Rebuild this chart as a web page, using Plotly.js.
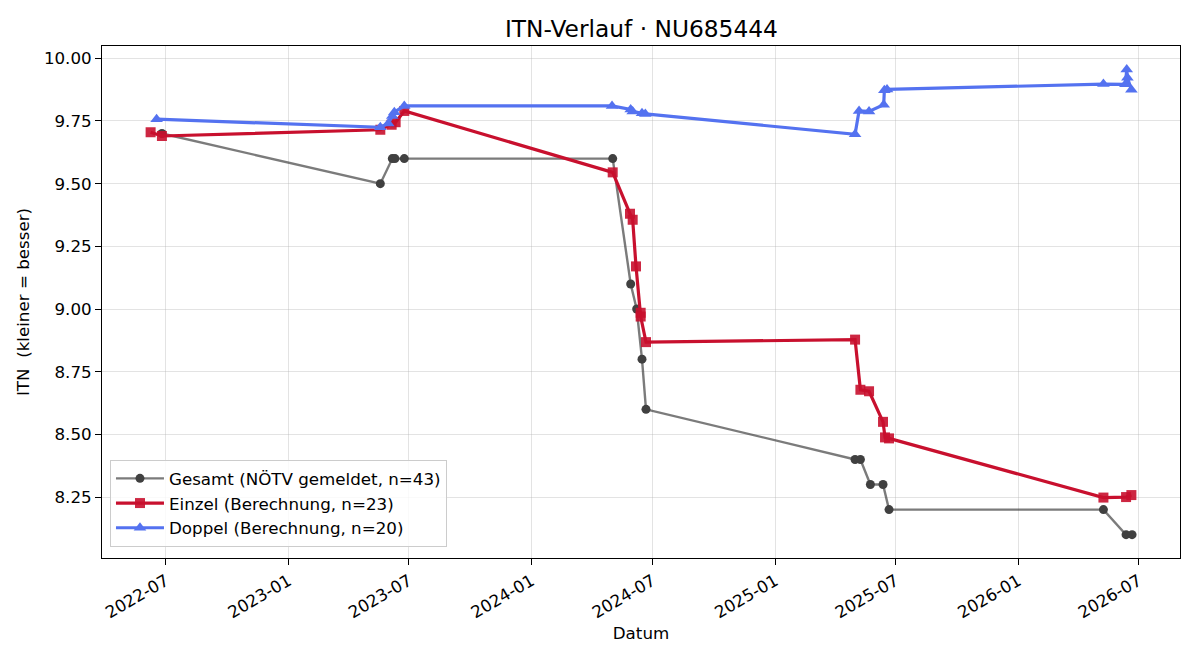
<!DOCTYPE html>
<html>
<head>
<meta charset="utf-8">
<script src="https://cdn.plot.ly/plotly-3.0.1.min.js"></script>
<style>html,body{margin:0;padding:0;background:#fff;}#chart{width:1200px;height:660px;}</style>
</head>
<body>
<div id="chart"></div>
<script>
// Gesamt (NÖTV gemeldet)
const gesamtDates = ["2022-06-25","2023-05-19","2023-06-06","2023-06-10","2023-06-24","2024-05-02","2024-05-29","2024-06-07","2024-06-15","2024-06-21","2025-05-01","2025-05-09","2025-05-24","2025-06-12","2025-06-21","2026-05-09","2026-06-12","2026-06-21"];
const gesamtValues = [9.70,9.50,9.60,9.60,9.60,9.60,9.10,9.00,8.80,8.60,8.40,8.40,8.30,8.30,8.20,8.20,8.10,8.10];

// Einzel (Berechnung)
const einzelDates = ["2022-06-08","2022-06-25","2023-05-19","2023-06-05","2023-06-11","2023-06-24","2024-05-02","2024-05-28","2024-06-01","2024-06-06","2024-06-13","2024-06-13","2024-06-21","2025-05-01","2025-05-09","2025-05-22","2025-06-12","2025-06-15","2025-06-21","2026-05-09","2026-06-12","2026-06-20"];
const einzelValues = [9.705,9.69,9.715,9.735,9.745,9.79,9.545,9.38,9.356,9.17,8.985,8.97,8.868,8.878,8.678,8.672,8.55,8.488,8.484,8.248,8.25,8.258];

// Doppel (Berechnung)
const doppelDates = ["2022-06-17","2023-05-19","2023-05-31","2023-06-06","2023-06-09","2023-06-24","2024-05-01","2024-05-29","2024-06-01","2024-06-15","2024-06-20","2025-05-01","2025-05-07","2025-05-22","2025-06-13","2025-06-14","2025-06-18","2026-05-09","2026-06-11","2026-06-13","2026-06-14","2026-06-20"];
const doppelValues = [9.757,9.725,9.74,9.77,9.785,9.81,9.81,9.796,9.788,9.781,9.778,9.697,9.79,9.788,9.815,9.873,9.876,9.897,9.896,9.955,9.922,9.875];

const legendNames = ["Gesamt (NÖTV gemeldet, n=43)","Einzel (Berechnung, n=23)","Doppel (Berechnung, n=20)"];
const yTicks = [8.25,8.50,8.75,9.00,9.25,9.50,9.75,10.00];
const xTicks = ["2022-07-01","2023-01-01","2023-07-01","2024-01-01","2024-07-01","2025-01-01","2025-07-01","2026-01-01","2026-07-01"];
const xTickText = ["2022-07","2023-01","2023-07","2024-01","2024-07","2025-01","2025-07","2026-01","2026-07"];

const traces = [
  {x: gesamtDates, y: gesamtValues, name: legendNames[0], type: "scatter", mode: "lines+markers",
   line: {color: "rgba(60,60,60,0.68)", width: 2.4},
   marker: {symbol: "circle", size: 9, color: "#404040"}},
  {x: einzelDates, y: einzelValues, name: legendNames[1], type: "scatter", mode: "lines+markers",
   line: {color: "#C8102E", width: 3.2},
   marker: {symbol: "square", size: 10, color: "rgba(200,16,46,0.9)"}},
  {x: doppelDates, y: doppelValues, name: legendNames[2], type: "scatter", mode: "lines+markers",
   line: {color: "#5472F0", width: 3.2},
   marker: {symbol: "triangle-up", size: 11, color: "#5472F0"}}
];

const font = "DejaVu Sans, sans-serif";
const fs = 16.7;
const layout = {
  width: 1200, height: 660,
  margin: {l: 102, r: 20, t: 46, b: 102},
  paper_bgcolor: "#fff", plot_bgcolor: "#fff",
  font: {family: font, size: fs, color: "#000"},
  title: {text: "ITN-Verlauf · NU685444", x: 0.5345, xanchor: "center", y: 0.957, yanchor: "middle", font: {family: font, size: 23.3, color: "#000"}},
  xaxis: {
    type: "date", range: ["2022-03-27", "2026-09-01"],
    tickvals: xTicks, ticktext: xTickText, tickangle: -30,
    ticks: "outside", ticklen: 6, tickcolor: "#000", tickwidth: 1,
    showgrid: true, gridcolor: "rgba(176,176,176,0.35)", gridwidth: 1,
    showline: true, linecolor: "#000", linewidth: 1, mirror: true, zeroline: false,
    tickfont: {family: font, size: fs},
    title: {text: "Datum", font: {family: font, size: fs}, standoff: 6}
  },
  yaxis: {
    range: [8.007, 10.049],
    tickvals: yTicks, ticktext: yTicks.map(v => v.toFixed(2)),
    ticks: "outside", ticklen: 6, tickcolor: "#000", tickwidth: 1,
    showgrid: true, gridcolor: "rgba(176,176,176,0.35)", gridwidth: 1,
    showline: true, linecolor: "#000", linewidth: 1, mirror: true, zeroline: false,
    tickfont: {family: font, size: fs},
    title: {text: "ITN  (kleiner = besser)", font: {family: font, size: fs}, standoff: 10}
  },
  legend: {
    x: 0.0074, y: 0.0215, xanchor: "left", yanchor: "bottom",
    bgcolor: "rgba(255,255,255,0.8)", bordercolor: "#cccccc", borderwidth: 1,
    font: {family: font, size: fs}, itemwidth: 48
  },
  showlegend: true
};

Plotly.newPlot("chart", traces, layout, {displayModeBar: false, staticPlot: true});
</script>
</body>
</html>
